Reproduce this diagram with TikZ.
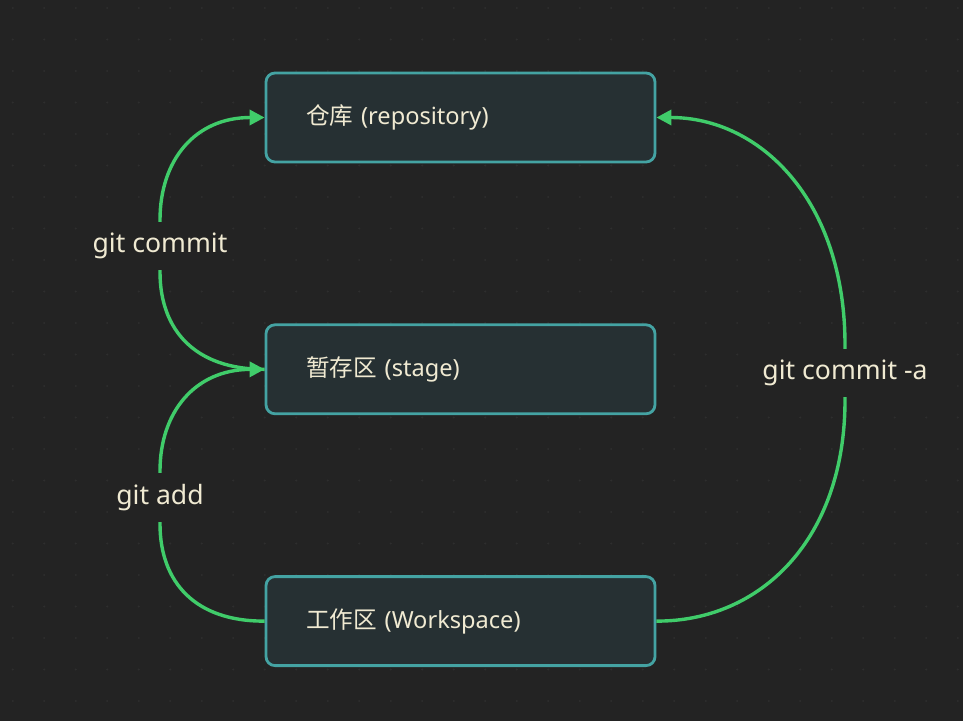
\documentclass[tikz,border=0pt]{standalone}
\usepackage{fontspec}
\setmainfont{Noto Sans}
\newfontfamily\cjk{Noto Sans CJK SC}
\usetikzlibrary{arrows.meta,positioning}
\definecolor{bgcol}{HTML}{232323}
\definecolor{dotcol}{HTML}{2E2E2E}
\definecolor{boxfill}{HTML}{263033}
\definecolor{boxline}{HTML}{44A3A3}
\definecolor{flowcol}{HTML}{40CC6A}
\definecolor{txtcol}{HTML}{F0EAD2}
\tikzset{
    %Define standard arrow tip
    >={Triangle[length=15pt,width=15pt]},
    %Define style for boxes
    areabox/.style={
           rectangle,
           rounded corners=9pt,
           draw=boxline, line width=2.8pt,
           fill=boxfill,
           minimum height=89pt,
           text width=309pt,
           inner xsep=40pt,
           align=left,
           font=\fontsize{23.6}{28}\selectfont,
           text=txtcol},
    % Define arrow style
    flow/.style={
           draw=flowcol,
           line width=3.4pt},
    cmd/.style={
           fill=bgcol,
           text=txtcol,
           inner xsep=2pt,
           inner ysep=11pt,
           font=\fontsize{26.6}{32}\selectfont}
}
\begin{document}
\begin{tikzpicture}[x=1pt,y=-1pt,node distance=160pt]
 %background
 \fill[bgcol] (0,0) rectangle (963,721);
 \useasboundingbox (0,0) rectangle (963,721);
 \foreach \i in {0,...,30}
   \foreach \j in {0,...,22}
     \fill[dotcol] (12.7+31.5*\i,8+31.5*\j) circle (1.1pt);

 %nodes
 \node[areabox] (repo) at (460.5,117.5) {{\cjk 仓库} (repository)};
 \node[areabox, below=of repo] (stage) {{\cjk 暂存区} (stage)};
 \node[areabox, below=of stage] (work) {{\cjk 工作区} (Workspace)};

 %edges
 \draw[flow,->] (stage.west) .. controls (195,369.5) and (160,330) .. (160,272)
    -- node[cmd]{git commit} (160,220)
    .. controls (160,160) and (195,117.5) .. (repo.west);
 \draw[flow,->] (work.west) .. controls (195,621.5) and (160,582) .. (160,524)
    -- node[cmd]{git add} (160,471)
    .. controls (160,412) and (195,369.5) .. (stage.west);
 \draw[flow,->] (work.east) .. controls (760,621.5) and (845,540) .. (845,400)
    -- node[cmd]{git commit -a} (845,345)
    .. controls (845,200) and (760,117.5) .. (repo.east);
\end{tikzpicture}
\end{document}
